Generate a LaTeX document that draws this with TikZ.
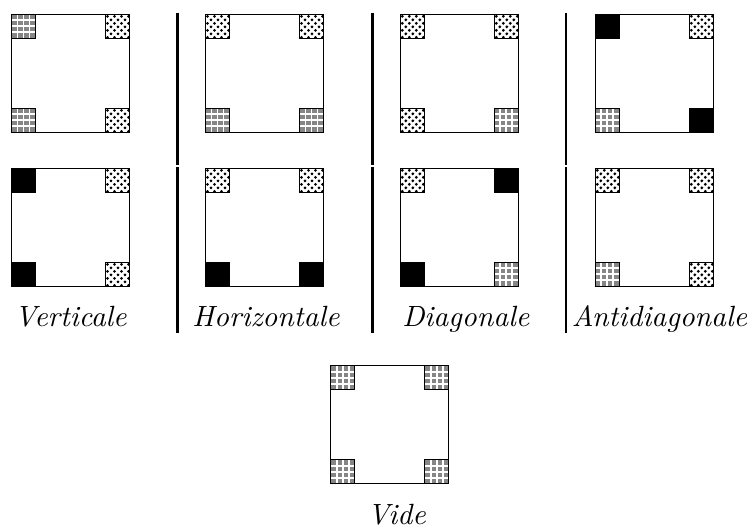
\documentclass[tikz,border=0pt]{standalone}
\usetikzlibrary{calc}
\tikzset{
  frame/.style={draw=black, line width=0.45pt},
  sep/.style={line width=1pt},
  lbl/.style={font=\fontsize{10.6}{13}\selectfont\itshape, anchor=base, inner sep=0pt},
  gsq/.pic={
    \fill[gray!95] (0,0) rectangle (24,24);
    \foreach \t in {6,12,18}{
      \draw[white, line width=0.6pt] (\t,0) -- (\t,24);
      \draw[white, line width=0.6pt] (0,\t) -- (24,\t);
    }
    \draw[line width=0.5pt] (0,0) rectangle (24,24);
  },
  dsq/.pic={
    \fill[white] (0,0) rectangle (24,24);
    \foreach \i in {0,...,3}{\foreach \j in {0,...,3}{
      \fill (2+7*\i,2+7*\j) circle[radius=0.55pt];}}
    \foreach \i in {0,...,2}{\foreach \j in {0,...,2}{
      \fill (5.5+7*\i,5.5+7*\j) circle[radius=0.55pt];}}
    \draw[line width=0.5pt] (0,0) rectangle (24,24);
  },
  bsq/.pic={
    \fill[black] (0,0) rectangle (24,24);
    \draw[line width=0.5pt] (0,0) rectangle (24,24);
  },
}
\newcommand\panel[6]{%
  \draw[frame] (#1,#2) rectangle ({#1+118},{#2+118});
  \pic at (#1,#2) {#3};
  \pic at ({#1+94},#2) {#4};
  \pic at (#1,{#2+94}) {#5};
  \pic at ({#1+94},{#2+94}) {#6};
}
\begin{document}
\begin{tikzpicture}[x=0.362pt,y=-0.362pt]
\useasboundingbox (0,0) rectangle (749,526);
% row 1
\panel{11.5}{14.3}{gsq}{dsq}{gsq}{dsq}
\panel{205.5}{14.3}{dsq}{dsq}{gsq}{gsq}
\panel{400.3}{14.3}{dsq}{dsq}{dsq}{gsq}
\panel{595.3}{14.3}{bsq}{dsq}{gsq}{bsq}
% row 2
\panel{11.5}{168.3}{bsq}{dsq}{bsq}{dsq}
\panel{205.5}{168.3}{dsq}{dsq}{bsq}{bsq}
\panel{400.3}{168.3}{dsq}{bsq}{bsq}{gsq}
\panel{595.3}{168.3}{dsq}{dsq}{gsq}{dsq}
% vide
\panel{330.7}{365.7}{gsq}{gsq}{gsq}{gsq}
% separators
\foreach \x [count=\k] in {177.3,372.7,566}{
  \coordinate (s\k a) at (\x,12.7);
  \coordinate (s\k b) at (\x,165);
  \coordinate (s\k c) at (\x,167.3);
  \coordinate (s\k d) at (\x,332.7);
  \draw[sep] (s\k a) -- (s\k b);
  \draw[sep] (s\k c) -- (s\k d);
}
% labels
\node[lbl] (l1) at (70.7,326.7) {Verticale};
\node[lbl] (l2) at (266,326.7) {Horizontale};
\node[lbl] (l3) at (465.8,326.7) {Diagonale};
\node[lbl] (l4) at (659.5,326.7) {Antidiagonale};
\node[lbl] (l5) at (396.7,524.5) {Vide};
\end{tikzpicture}
\end{document}
